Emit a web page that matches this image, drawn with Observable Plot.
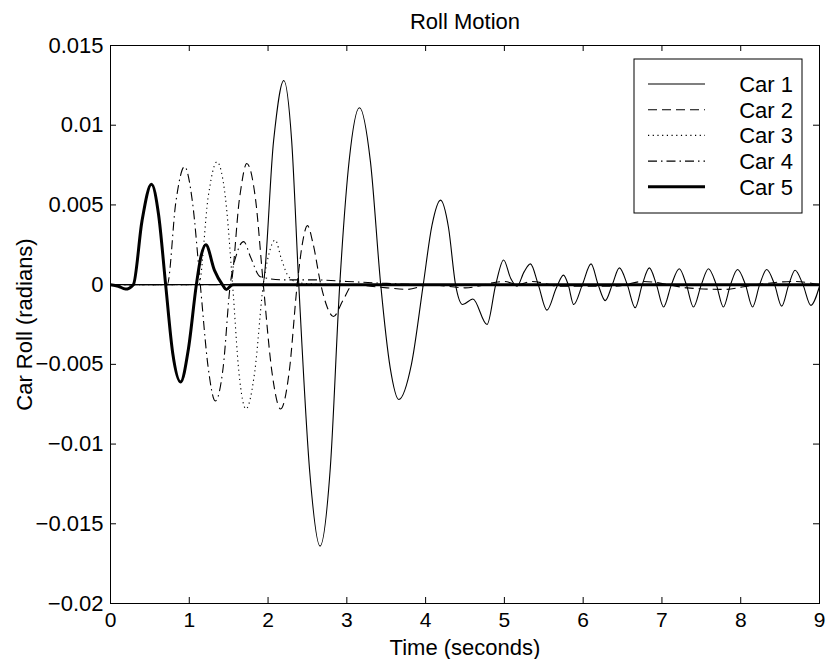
<!DOCTYPE html>
<html><head><meta charset="utf-8">
<script src="https://cdn.jsdelivr.net/npm/d3@7"></script>
<script src="https://cdn.jsdelivr.net/npm/@observablehq/plot@0.6"></script>
<style>body{margin:0;background:#fff}#chart{position:relative;width:826px;height:659px}</style>
</head><body><div id="chart"></div>
<script>
// ---- data ----
const title = "Roll Motion";
const xLabel = "Time (seconds)";
const yLabel = "Car Roll (radians)";
const seriesNames = ["Car 1", "Car 2", "Car 3", "Car 4", "Car 5"];

const car1 = [[0,0],[1.0,0],[1.93,0],[2.07,0.0090],[2.20,0.0128],[2.30,0.0090],[2.39,0],[2.53,-0.0118],[2.66,-0.0164],[2.79,-0.0115],[2.91,0],[3.03,0.0078],[3.16,0.0111],[3.30,0.0077],[3.43,0],[3.55,-0.0052],[3.66,-0.0072],[3.82,-0.0050],[3.97,0],[4.08,0.0037],[4.19,0.0053],[4.29,0.0036],[4.38,0],[4.47,-0.00125],[4.60,-0.0009],[4.78,-0.0025],[4.89,0],[4.99,0.00155],[5.08,0.0004],[5.16,-0.0001],[5.25,0.0008],[5.33,0.0013],[5.43,0],[5.54,-0.0016],[5.66,-0.0002],[5.75,0.0006],[5.81,0],[5.88,-0.00125],[5.99,0],[6.10,0.0013],[6.19,0],[6.28,-0.0010],[6.37,0],[6.46,0.00105],[6.56,0],[6.66,-0.00145],[6.75,0],[6.84,0.00105],[6.93,0],[7.02,-0.0014],[7.12,0],[7.22,0.0010],[7.31,0],[7.40,-0.0014],[7.50,0],[7.59,0.0010],[7.69,0],[7.78,-0.0014],[7.87,0],[7.96,0.00095],[8.06,0],[8.15,-0.0014],[8.24,0],[8.33,0.00095],[8.43,0],[8.52,-0.00135],[8.61,0],[8.69,0.0009],[8.79,0],[8.89,-0.0013],[9.0,-0.0001]];

const car2 = [[0,0],[1.52,0],[1.64,0.0055],[1.73,0.0076],[1.84,0.0054],[1.94,0],[2.05,-0.0055],[2.16,-0.0078],[2.27,-0.0054],[2.37,0],[2.44,0.0027],[2.50,0.0037],[2.57,0.0026],[2.67,0],[2.75,-0.0014],[2.83,-0.0020],[2.95,-0.0010],[3.08,0],[3.30,-0.0001],[3.51,-0.0002],[3.77,-0.0003],[4.05,0],[4.50,-0.0002],[5.00,0.0002],[5.17,0],[5.35,0.0002],[5.70,-0.0001],[6.40,-0.0001],[6.77,0.0002],[7.32,-0.0002],[7.78,-0.0003],[8.20,0],[8.67,0.0002],[9.0,0]];

const car3 = [[0,0],[1.12,0],[1.24,0.0055],[1.35,0.0077],[1.46,0.0054],[1.55,0],[1.63,-0.0055],[1.72,-0.0078],[1.83,-0.0055],[1.94,0],[2.01,0.0019],[2.09,0.0028],[2.17,0.0016],[2.26,0.0005],[2.40,0.0001],[3.0,0],[9.0,0]];

const car4 = [[0,0],[0.72,0],[0.83,0.0052],[0.94,0.0074],[1.04,0.0052],[1.14,0],[1.24,-0.0052],[1.33,-0.0073],[1.43,-0.0052],[1.52,0],[1.60,0.0019],[1.69,0.0027],[1.78,0.0017],[1.90,0.0005],[2.20,0.0003],[2.60,0.0003],[3.00,0.0002],[3.40,0.0001],[4.0,0],[9.0,0]];

const car5 = [[0,0],[0.10,-0.0001],[0.19,-0.00028],[0.29,0],[0.40,0.0040],[0.52,0.0063],[0.61,0.0044],[0.70,0],[0.79,-0.0043],[0.89,-0.0061],[0.99,-0.0040],[1.09,0],[1.15,0.0018],[1.21,0.0025],[1.32,0.0009],[1.42,0],[1.47,-0.0003],[1.55,0],[9.0,0]];

const xTicks = [0,1,2,3,4,5,6,7,8,9];
const xTickLabels = ["0","1","2","3","4","5","6","7","8","9"];
const yTicks = [0.015,0.01,0.005,0,-0.005,-0.01,-0.015,-0.02];
const yTickLabels = ["0.015","0.01","0.005","0","\u22120.005","\u22120.01","\u22120.015","\u22120.02"];

// ---- layout / style ----
const W = 826, H = 659, mL = 110, mR = 7, mT = 45, mB = 56;
const fw = W - mL - mR, fh = H - mT - mB;
const font = "'Liberation Sans', Arial, Helvetica, sans-serif";
const fs = 22;
const lineStyles = [
  {w: 1.1, dash: null},
  {w: 1.1, dash: "9,5"},
  {w: 1.1, dash: "1.2,3.5"},
  {w: 1.1, dash: "9,4,1.5,4"},
  {w: 3, dash: null}
];
const series = [car1, car2, car3, car4, car5];

const lineMarks = series.map((s, i) => Plot.line(s, {
  x: d => d[0], y: d => d[1], curve: "monotone-x",
  stroke: "black", strokeWidth: lineStyles[i].w,
  strokeDasharray: lineStyles[i].dash, strokeLinecap: "butt"
}));

const tl = 6;
const chart = Plot.plot({
  width: W, height: H,
  marginLeft: mL, marginRight: mR, marginTop: mT, marginBottom: mB,
  style: {fontFamily: font, fontSize: fs + "px", background: "white", color: "black"},
  x: {domain: [0, 9]},
  y: {domain: [-0.02, 0.015]},
  marks: [
    ...lineMarks,
    Plot.frame({stroke: "black", strokeWidth: 1}),
    Plot.tickX(xTicks, {x: d => d, insetTop: fh - tl, stroke: "black"}),
    Plot.tickX(xTicks, {x: d => d, insetBottom: fh - tl, stroke: "black"}),
    Plot.tickY(yTicks, {y: d => d, insetRight: fw - tl, stroke: "black"}),
    Plot.tickY(yTicks, {y: d => d, insetLeft: fw - tl, stroke: "black"}),
    Plot.axisX(xTicks, {tickSize: 0, tickPadding: 9, tickFormat: d => xTickLabels[xTicks.indexOf(d)], label: null, fill: "black", fontSize: 21}),
    Plot.axisY(yTicks, {tickSize: 0, tickPadding: 7, tickFormat: d => yTickLabels[yTicks.indexOf(d)], label: null, fill: "black", fontSize: fs}),
    Plot.text([title], {text: d => d, frameAnchor: "top", lineAnchor: "middle", textAnchor: "middle", dy: -24, fontSize: fs, fill: "black"}),
    Plot.text([xLabel], {text: d => d, frameAnchor: "bottom", lineAnchor: "middle", textAnchor: "middle", dy: 44, fontSize: fs, fill: "black"}),
    Plot.text([yLabel], {text: d => d, frameAnchor: "left", lineAnchor: "middle", textAnchor: "middle", dx: -86, rotate: -90, fontSize: fs, fill: "black"})
  ]
});
document.getElementById("chart").appendChild(chart);

// ---- legend box (MATLAB style, inside upper right) ----
const svg = d3.select(chart);
const lg = svg.append("g").attr("font-family", font).attr("font-size", fs);
lg.append("rect").attr("x", 634).attr("y", 59).attr("width", 168).attr("height", 154)
  .attr("fill", "white").attr("stroke", "black").attr("stroke-width", 1);
seriesNames.forEach((name, i) => {
  const y = 84 + i * 25.7;
  lg.append("line").attr("x1", 648).attr("x2", 705).attr("y1", y).attr("y2", y)
    .attr("stroke", "black").attr("stroke-width", lineStyles[i].w)
    .attr("stroke-dasharray", lineStyles[i].dash);
  lg.append("text").attr("x", 793).attr("y", y + 7.8).attr("text-anchor", "end")
    .attr("fill", "black").text(name);
});
</script>
</body></html>
